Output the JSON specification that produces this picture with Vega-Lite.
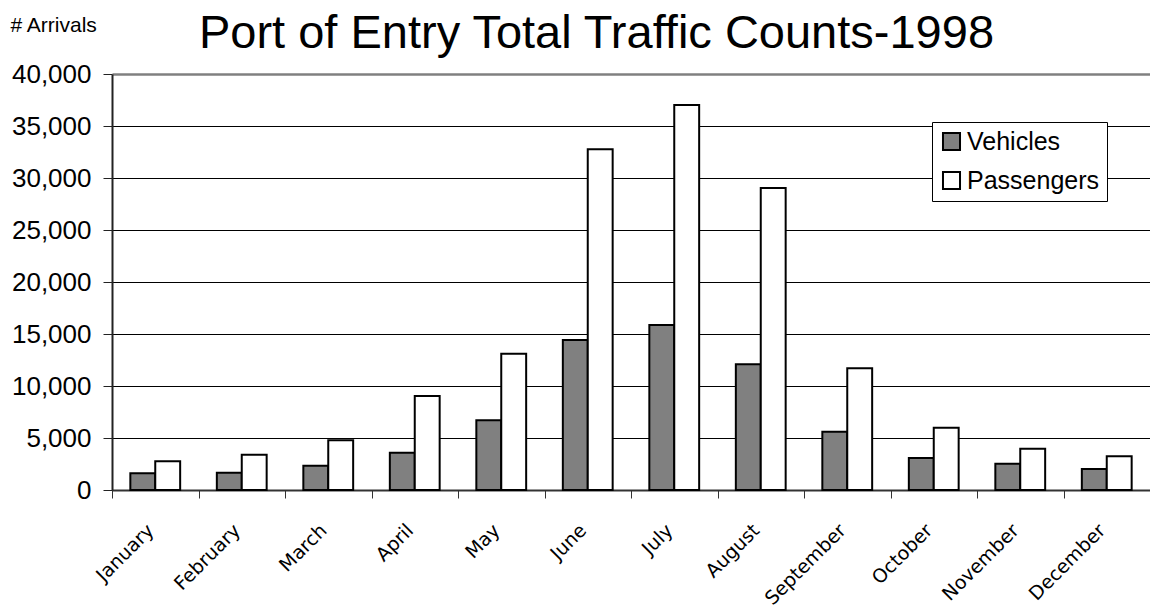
{
  "$schema": "https://vega.github.io/schema/vega-lite/v6.json",
  "autosize": {"type": "none"},
  "width": 1038,
  "height": 416,
  "padding": {"left": 112, "top": 74, "right": 0, "bottom": 120},
  "background": "white",
  "data": {
    "values": [
      {"month": "January", "series": "Vehicles", "value": 1600},
      {"month": "January", "series": "Passengers", "value": 2760},
      {"month": "February", "series": "Vehicles", "value": 1670},
      {"month": "February", "series": "Passengers", "value": 3400},
      {"month": "March", "series": "Vehicles", "value": 2340},
      {"month": "March", "series": "Passengers", "value": 4780},
      {"month": "April", "series": "Vehicles", "value": 3590},
      {"month": "April", "series": "Passengers", "value": 9040},
      {"month": "May", "series": "Vehicles", "value": 6700},
      {"month": "May", "series": "Passengers", "value": 13100},
      {"month": "June", "series": "Vehicles", "value": 14420},
      {"month": "June", "series": "Passengers", "value": 32760},
      {"month": "July", "series": "Vehicles", "value": 15870},
      {"month": "July", "series": "Passengers", "value": 37020},
      {"month": "August", "series": "Vehicles", "value": 12080},
      {"month": "August", "series": "Passengers", "value": 29040},
      {"month": "September", "series": "Vehicles", "value": 5610},
      {"month": "September", "series": "Passengers", "value": 11700},
      {"month": "October", "series": "Vehicles", "value": 3080},
      {"month": "October", "series": "Passengers", "value": 5990},
      {"month": "November", "series": "Vehicles", "value": 2530},
      {"month": "November", "series": "Passengers", "value": 3970},
      {"month": "December", "series": "Vehicles", "value": 2020},
      {"month": "December", "series": "Passengers", "value": 3240}
    ]
  },
  "mark": {"type": "bar", "stroke": "black", "strokeWidth": 2},
  "encoding": {
    "x": {
      "field": "month",
      "type": "nominal",
      "sort": null,
      "scale": {"paddingInner": 0, "paddingOuter": 0},
      "axis": {
        "title": "Port of Entry Total Traffic Counts-1998",
        "titleFont": "Liberation Sans",
        "titleFontSize": 47,
        "titleFontWeight": "normal",
        "titleColor": "black",
        "titleAlign": "center",
        "titleBaseline": "alphabetic",
        "titleX": 484,
        "titleY": -443,
        "tickBand": "extent",
        "labelAngle": -45,
        "labelAlign": "right",
        "labelBaseline": "middle",
        "labelFont": "DejaVu Sans",
        "labelFontSize": 19,
        "labelColor": "black",
        "labelPadding": 29,
        "labelOffset": -5,
        "tickSize": 8,
        "tickColor": "#333",
        "domainColor": "#333",
        "domainWidth": 2,
        "grid": false
      }
    },
    "xOffset": {
      "field": "series",
      "type": "nominal",
      "sort": ["Vehicles", "Passengers"],
      "scale": {"paddingInner": 0, "paddingOuter": 0.736}
    },
    "y": {
      "field": "value",
      "type": "quantitative",
      "scale": {"domain": [0, 40000], "nice": false},
      "axis": {
        "values": [0, 5000, 10000, 15000, 20000, 25000, 30000, 35000, 40000],
        "format": ",d",
        "title": "# Arrivals",
        "titleAngle": 0,
        "titleX": -102,
        "titleY": -43,
        "titleAlign": "left",
        "titleBaseline": "alphabetic",
        "titleFont": "Liberation Sans",
        "titleFontSize": 21,
        "titleFontWeight": "normal",
        "titleColor": "black",
        "labelFont": "Liberation Sans",
        "labelFontSize": 26,
        "labelColor": "black",
        "labelPadding": 12,
        "tickSize": 9,
        "tickColor": "#222",
        "domainColor": "#222",
        "domainWidth": 2,
        "grid": true,
        "gridColor": {"condition": {"test": "datum.value === 40000", "value": "#808080"}, "value": "black"},
        "gridWidth": {"condition": {"test": "datum.value === 40000", "value": 2.5}, "value": 1},
        "gridOpacity": 1
      }
    },
    "fill": {
      "field": "series",
      "type": "nominal",
      "sort": ["Vehicles", "Passengers"],
      "scale": {"domain": ["Vehicles", "Passengers"], "range": ["#808080", "#ffffff"]},
      "legend": {
        "title": null,
        "orient": "none",
        "legendX": 820,
        "legendY": 48,
        "strokeColor": "black",
        "fillColor": "white",
        "padding": 7,
        "symbolType": "square",
        "symbolSize": 290,
        "symbolStrokeColor": "black",
        "symbolStrokeWidth": 2,
        "symbolOpacity": 1,
        "labelFont": "Liberation Sans",
        "labelFontSize": 25,
        "labelColor": "black",
        "labelOffset": 3,
        "rowPadding": 12,
        "labelLimit": 300
      }
    }
  },
  "config": {
    "view": {"stroke": null}
  }
}
